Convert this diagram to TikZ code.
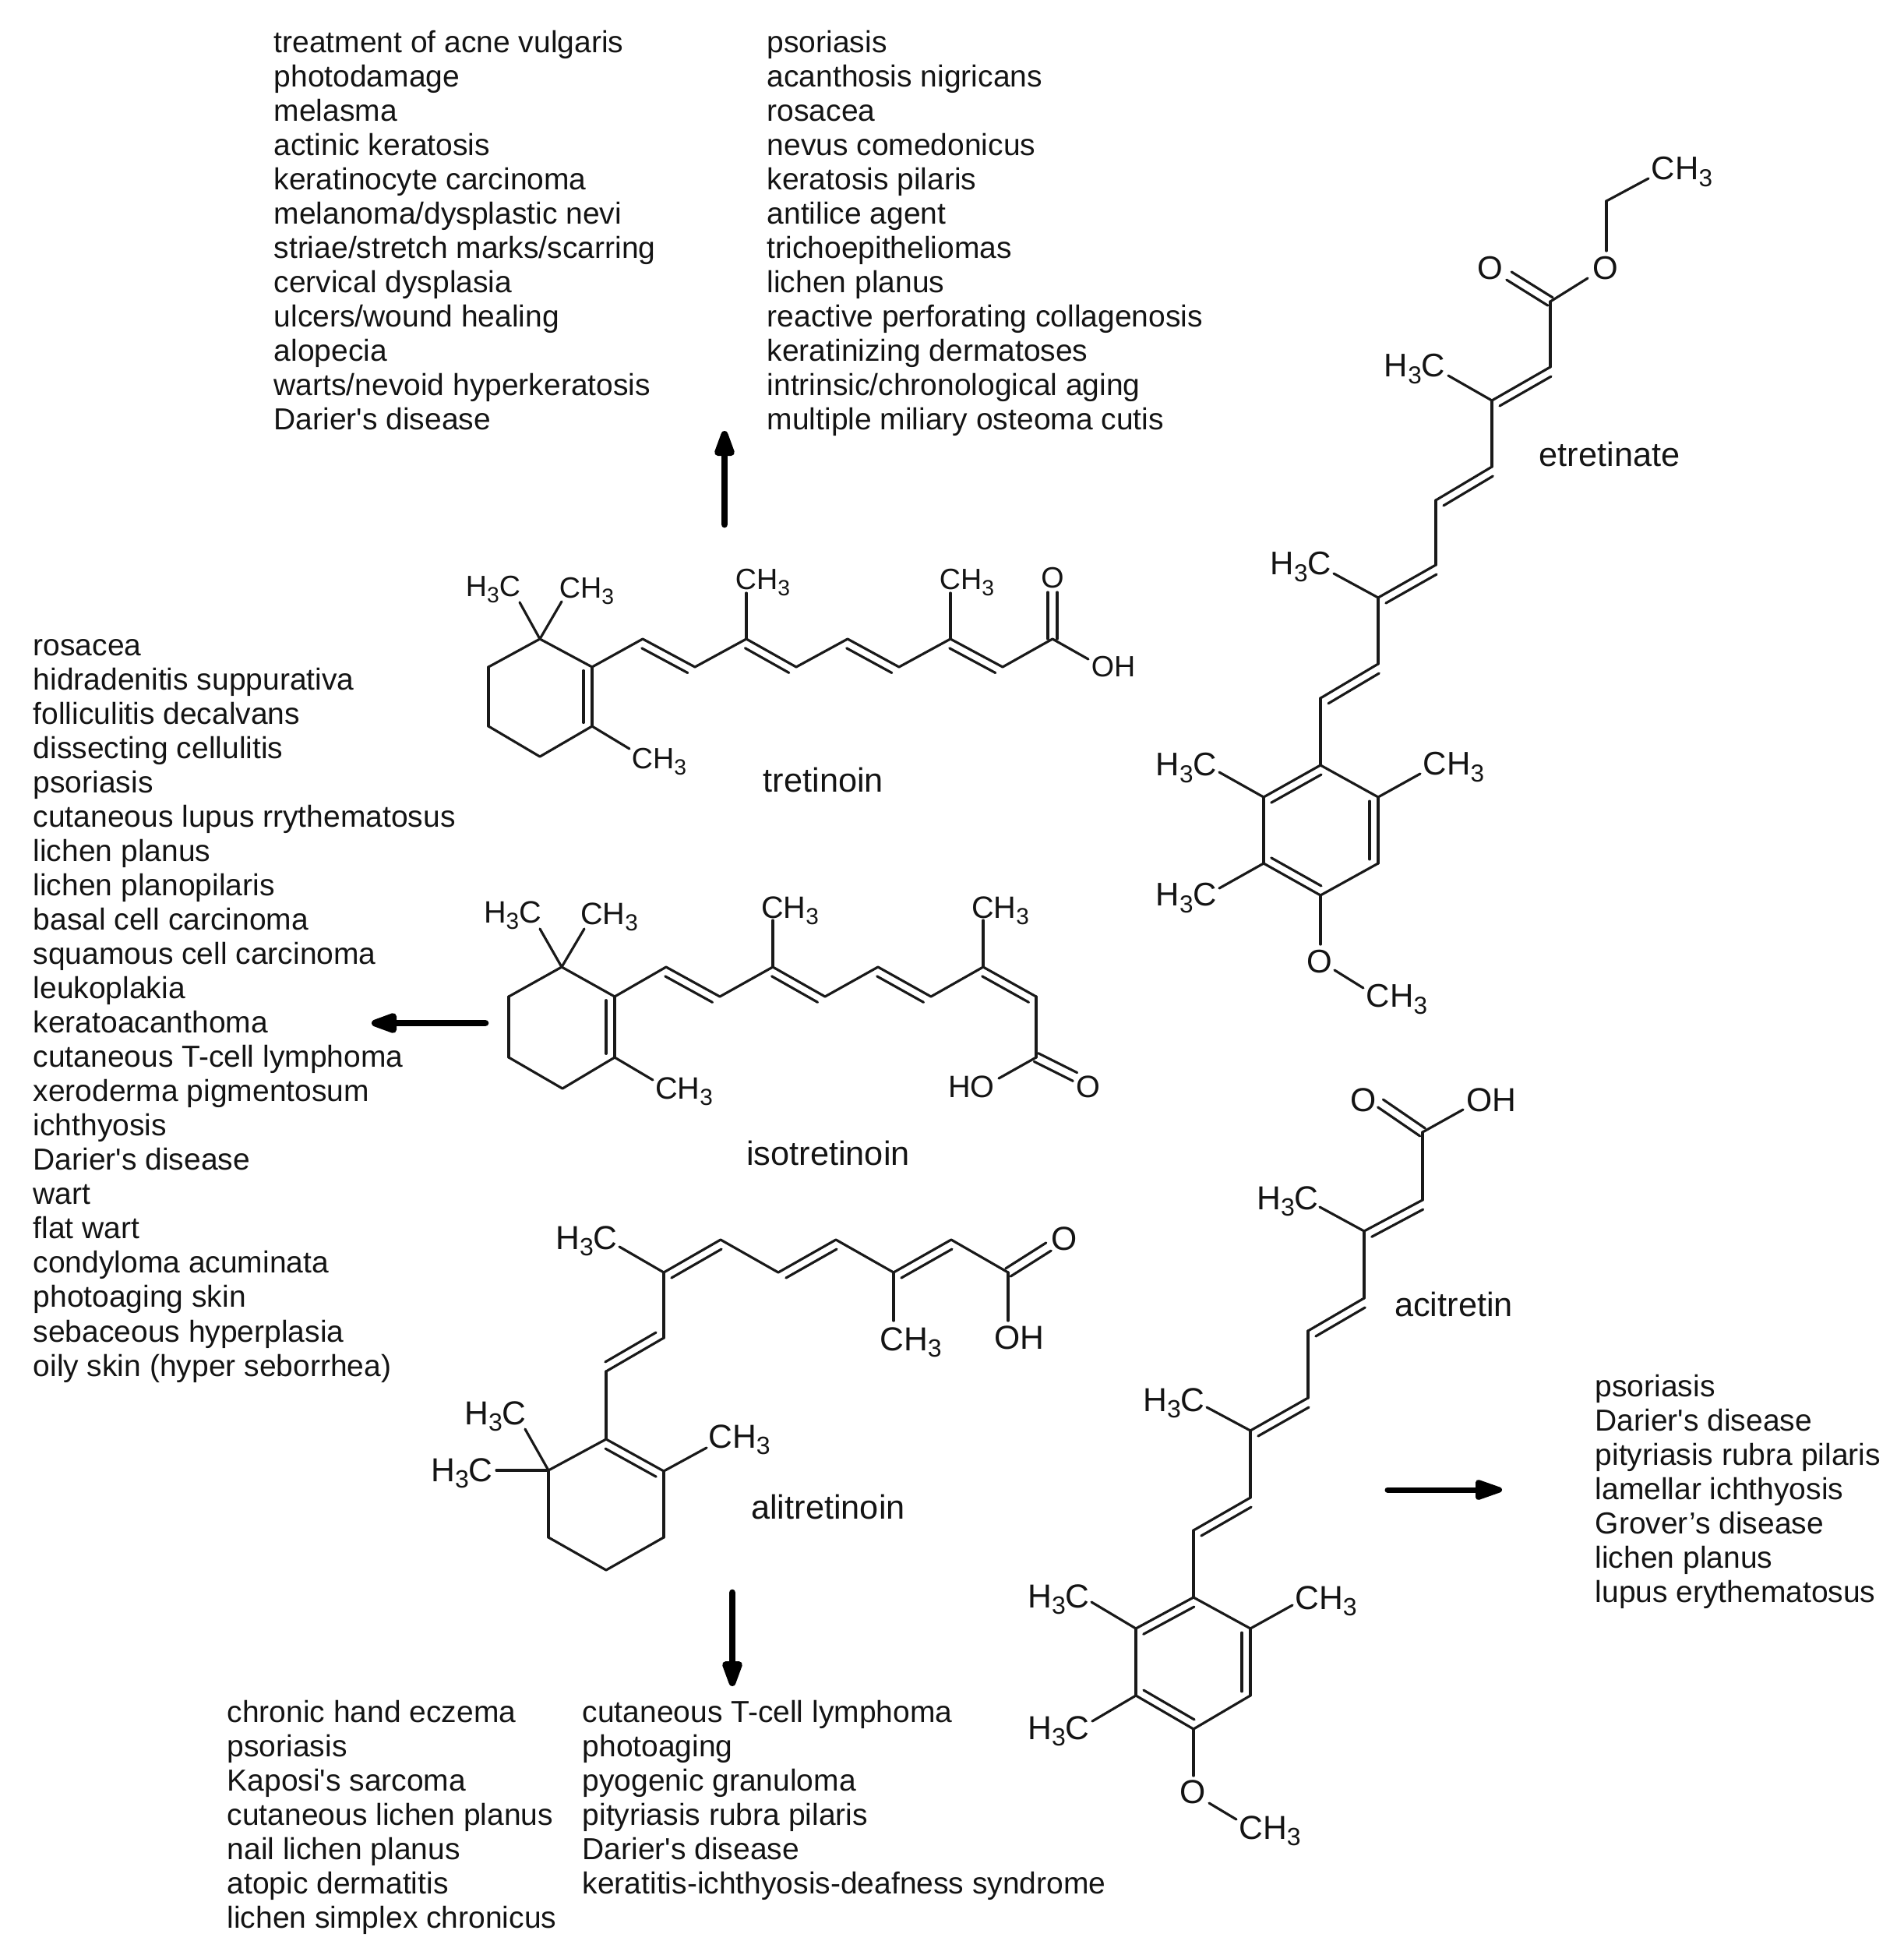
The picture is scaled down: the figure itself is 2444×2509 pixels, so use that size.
\documentclass[tikz,border=0pt]{standalone}
\usepackage{fontspec}
\usepackage{graphicx}
\newfontfamily\lib{Liberation Sans}
\usetikzlibrary{calc,arrows.meta}
\def\chemfs{12}
\tikzset{
  bond/.style={line width=0.95pt,color=black!90,line cap=round,line join=round},
  chem/.style={font=\lib\fontsize{\chemfs}{14}\selectfont,inner sep=0pt,text=black!92},
  molname/.style={font=\lib\fontsize{13}{15}\selectfont,inner sep=0pt,text=black!92},
  listline/.style={font=\lib\fontsize{11.7}{14}\selectfont,inner sep=0pt,anchor=base west,text=black!92},
  bigarrow/.style={line width=2.6pt,line cap=round,color=black,-{Triangle[length=12.6pt,width=8pt,round]}}
}
\newcommand\atoms[2]{\foreach \n/\x/\y in {#2}{\coordinate (#1\n) at (\x,\y);}}
\newcommand\bonds[2]{\foreach \a/\b in {#2}{\draw[bond] (#1\a) -- (#1\b);}}
\newcommand\dbl[2]{\foreach \a/\b in {#2}{%
  \draw[bond] ($(#1\a)!0.06!(#1\b)!-3.3pt!90:(#1\b)$) -- ($(#1\b)!0.06!(#1\a)!3.3pt!90:(#1\a)$);}}
\newcommand\dco[2]{\foreach \a/\b in {#2}{%
  \draw[bond] ($(#1\a)!1.8pt!90:(#1\b)$) -- ($(#1\b)!-1.8pt!90:(#1\a)$);
  \draw[bond] ($(#1\a)!-1.8pt!90:(#1\b)$) -- ($(#1\b)!1.8pt!90:(#1\a)$);}}
\newcommand\lab[4]{\node[chem] (#1) at (#2,#3) {#4};}
\newcommand\labs[4]{\node[chem,yshift=-0.8pt] (#1) at (#2,#3) {#4};}
\newcommand\three{\raisebox{-.2em}{\scalebox{.75}{3}}}
\newcommand\hc{H\three C}
\newcommand\ch{CH\three}
\newcommand\listat[4]{\foreach \t [count=\i from 0] in {#4}{%
  \node[listline] (#1\i) at (#2,{#3+\i*44.05}) {\t};}}
\begin{document}
\begin{tikzpicture}[x=0.3pt,y=-0.3pt]
\useasboundingbox (0,0) rectangle (2444,2509);
% ---------- lists
\listat{la}{351}{67}{treatment of acne vulgaris,photodamage,melasma,actinic keratosis,keratinocyte carcinoma,melanoma/dysplastic nevi,striae/stretch marks/scarring,cervical dysplasia,ulcers/wound healing,alopecia,warts/nevoid hyperkeratosis,Darier's disease}
\listat{lb}{984}{67}{psoriasis,acanthosis nigricans,rosacea,nevus comedonicus,keratosis pilaris,antilice agent,trichoepitheliomas,lichen planus,reactive perforating collagenosis,keratinizing dermatoses,intrinsic/chronological aging,multiple miliary osteoma cutis}
\listat{lc}{42}{841}{rosacea,hidradenitis suppurativa,folliculitis decalvans,dissecting cellulitis,psoriasis,cutaneous lupus rrythematosus,lichen planus,lichen planopilaris,basal cell carcinoma,squamous cell carcinoma,leukoplakia,keratoacanthoma,cutaneous T-cell lymphoma,xeroderma pigmentosum,ichthyosis,Darier's disease,wart,flat wart,condyloma acuminata,photoaging skin,sebaceous hyperplasia,oily skin (hyper seborrhea)}
\listat{ld}{291}{2210}{chronic hand eczema,psoriasis,Kaposi's sarcoma,cutaneous lichen planus,nail lichen planus,atopic dermatitis,lichen simplex chronicus}
\listat{le}{747}{2210}{cutaneous T-cell lymphoma,photoaging,pyogenic granuloma,pityriasis rubra pilaris,Darier's disease,keratitis-ichthyosis-deafness syndrome}
\listat{lf}{2047}{1792}{psoriasis,Darier's disease,pityriasis rubra pilaris,lamellar ichthyosis,Grover’s disease,lichen planus,lupus erythematosus}
% ---------- arrows
\atoms{ar}{a/930/673,b/930/553,c/623/1313,d/477/1313,e/940/2044,f/940/2164,g/1781/1912,h/1928/1912}
\draw[bigarrow] (ara) -- (arb);
\draw[bigarrow] (arc) -- (ard);
\draw[bigarrow] (are) -- (arf);
\draw[bigarrow,line width=2.1pt] (arg) -- (arh);
% ---------- tretinoin
\def\chemfs{11.3}
\atoms{t}{1/693/820,2/627/856,3/627/932,4/693/971,5/760/932,6/760/856,7/825/820,8/892/856,9/958/820,10/1022/856,11/1088/820,12/1154/856,13/1220/820,14/1287/856,15/1351/820,16/1351/760,17/1397/846,18/958/761,19/1220/761,20/667/773,21/721/772,22/808/961}
\bonds{t}{1/2,2/3,3/4,4/5,5/6,6/1,6/7,7/8,8/9,9/10,10/11,11/12,12/13,13/14,14/15,15/17,9/18,13/19,1/20,1/21,5/22}
\dbl{t}{6/5,7/8,9/10,11/12,13/14}
\dco{t}{15/16}
\lab{to}{1351}{742}{O}\lab{toh}{1429}{856}{OH}\labs{tc1}{979}{745}{\ch}\labs{tc2}{1241}{745}{\ch}
\labs{tc3}{633}{754}{\hc}\labs{tc4}{753}{756}{\ch}\labs{tc5}{846}{975}{\ch}
\node[molname] (tn) at (1057,1001) {tretinoin};
% ---------- isotretinoin
\def\chemfs{11.9}
\atoms{i}{1/721/1241,2/653/1279,3/653/1357,4/722/1397,5/789/1357,6/789/1279,7/855/1241,8/924/1279,9/992/1241,10/1059/1279,11/1127/1241,12/1195/1279,13/1262/1241,14/1330/1279,15/1330/1357,16/1380/1382,17/1282/1384,18/992/1181,19/1262/1181,20/693/1192,21/750/1192,22/838/1386}
\bonds{i}{1/2,2/3,3/4,4/5,5/6,6/1,6/7,7/8,8/9,9/10,10/11,11/12,12/13,13/14,14/15,15/17,9/18,13/19,1/20,1/21,5/22}
\dbl{i}{6/5,7/8,9/10,11/12,13/14}
\dco{i}{15/16}
\lab{io}{1397}{1395}{O}\lab{ioh}{1247}{1395}{HO}\labs{ic1}{1014}{1166}{\ch}\labs{ic2}{1284}{1166}{\ch}
\labs{ic3}{658}{1172}{\hc}\labs{ic4}{782}{1174}{\ch}\labs{ic5}{878}{1398}{\ch}
\node[molname] (in) at (1063,1480) {isotretinoin};
% ---------- alitretinoin
\def\chemfs{12.8}
\atoms{a}{1/795/1600,2/852/1633,3/925/1591,4/999/1633,5/1073/1591,6/1147/1633,7/1221/1591,8/1294/1633,9/1346/1600,10/1294/1695,11/1147/1695,12/852/1717,13/778/1760,14/778/1847,15/852/1888,16/852/1973,17/778/2015,18/704/1973,19/704/1887,20/907/1858,21/674/1834,22/637/1887}
\bonds{a}{1/2,2/3,3/4,4/5,5/6,6/7,7/8,8/10,6/11,2/12,12/13,13/14,14/15,15/16,16/17,17/18,18/19,19/14,15/20,19/21,19/22}
\dbl{a}{2/3,4/5,6/7,12/13,14/15}
\dco{a}{8/9}
\lab{alo}{1366}{1590}{O}\lab{aoh}{1308}{1717}{OH}\labs{ac1}{753}{1590}{\hc}\labs{ac2}{1169}{1720}{\ch}
\labs{ac3}{949}{1845}{\ch}\labs{ac4}{636}{1815}{\hc}\labs{ac5}{593}{1888}{\hc}
\node[molname] (an) at (1063,1934) {alitretinoin};
% ---------- etretinate
\def\chemfs{12.6}
\atoms{e}{1/2116/229,2/2062/258,3/2062/322,4/2038/357,5/1990/387,6/1937/354,7/1990/471,8/1915/514,9/1859/482,10/1915/599,11/1843/642,12/1843/725,13/1769/767,14/1712/736,15/1769/852,16/1695/896,17/1695/982,18/1769/1023,19/1769/1108,20/1695/1149,21/1622/1108,22/1622/1023,23/1823/993,24/1565/991,25/1565/1140,26/1695/1212,27/1713/1245,28/1750/1268}
\bonds{e}{1/2,2/3,4/5,5/7,7/8,8/9,8/10,10/11,11/12,12/13,13/14,13/15,15/16,16/17,17/18,18/19,19/20,20/21,21/22,22/17,18/23,22/24,21/25,20/26,27/28}
\dbl{e}{8/7,11/10,13/12,16/15,22/17,18/19,20/21}
\dco{e}{5/6}
\lab{eo1}{2061}{344}{O}\lab{eo2}{1913}{344}{O}\lab{eo3}{1694}{1234}{O}\labs{ec1}{2159}{218}{\ch}\labs{ec2}{1816}{471}{\hc}
\labs{ec3}{1670}{725}{\hc}\labs{ec4}{1866}{982}{\ch}\labs{ec5}{1523}{983}{\hc}\labs{ec6}{1523}{1150}{\hc}\labs{ec7}{1793}{1280}{\ch}
\node[molname] (en) at (2066,583) {etretinate};
% ---------- acitretin
\def\chemfs{12.8}
\atoms{c}{1/1772/1416,2/1826/1453,3/1878/1424,4/1826/1540,5/1751/1580,6/1694/1549,7/1751/1666,8/1679/1708,9/1679/1794,10/1605/1836,11/1549/1806,12/1605/1922,13/1532/1964,14/1532/2050,15/1605/2090,16/1605/2176,17/1532/2219,18/1458/2176,19/1458/2090,20/1659/2060,21/1401/2056,22/1402/2209,23/1532/2279,24/1552/2314,25/1587/2335}
\bonds{c}{2/3,2/4,4/5,5/6,5/7,7/8,8/9,9/10,10/11,10/12,12/13,13/14,14/15,15/16,16/17,17/18,18/19,19/14,15/20,19/21,18/22,17/23,24/25}
\dbl{c}{5/4,8/7,10/9,13/12,19/14,15/16,17/18}
\dco{c}{2/1}
\lab{co}{1750}{1412}{O}\lab{coh}{1914}{1412}{OH}\lab{co3}{1531}{2300}{O}\labs{cc1}{1653}{1539}{\hc}\labs{cc2}{1507}{1798}{\hc}
\labs{cc3}{1702}{2052}{\ch}\labs{cc4}{1359}{2050}{\hc}\labs{cc5}{1359}{2219}{\hc}\labs{cc6}{1630}{2347}{\ch}
\node[molname] (cn) at (1866,1674) {acitretin};
\end{tikzpicture}
\end{document}
